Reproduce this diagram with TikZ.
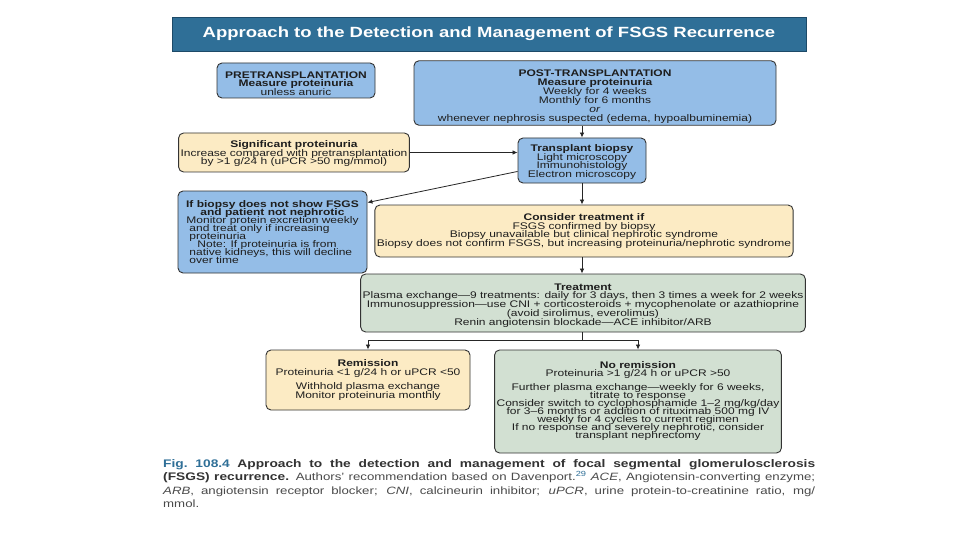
\documentclass[tikz,border=0pt]{standalone}
\usepackage{fontspec}
\setmainfont{Liberation Sans}[FakeStretch=1.25]
\usetikzlibrary{arrows.meta,calc}
\definecolor{titleblue}{HTML}{2F6F97}
\definecolor{titleedge}{HTML}{1D4A68}
\definecolor{boxblue}{HTML}{94BDE7}
\definecolor{boxcream}{HTML}{FCEBC4}
\definecolor{boxgreen}{HTML}{D2E0D2}
\definecolor{txt}{HTML}{1E1E1E}
\definecolor{capgray}{HTML}{4A4A4A}
\definecolor{capblue}{HTML}{2F6F97}
\newcommand{\boxfont}[1]{\fontsize{9.6}{#1}\selectfont\lineskiplimit=-20pt\relax}
\newcommand{\topgap}[1]{\rule{0pt}{#1}}
\newcommand{\capbold}{\fontsize{11}{13.5}\selectfont\bfseries}
\begin{document}
\begin{tikzpicture}[x=1pt,y=-1pt,
  box/.style={draw=black!80, line width=0.9pt, rounded corners=5pt, align=center,
    inner sep=2pt, text=txt, font=\boxfont{8.6}},
  bluebox/.style={box, fill=boxblue},
  creambox/.style={box, fill=boxcream},
  greenbox/.style={box, fill=boxgreen},
  conn/.style={draw=black!85, line width=0.8pt},
  arr/.style={conn, -{Latex[length=5pt,width=4.5pt]}}]
\useasboundingbox[fill=white] (0,0) rectangle (960,540);

% title bar
\node[fill=titleblue, draw=titleedge, line width=0.8pt, minimum width=634pt, minimum height=34pt,
  text=white, font=\fontsize{14.8}{16}\selectfont\bfseries] (title) at (489,34)
  {Approach to the Detection and Management of FSGS Recurrence};

\node[bluebox, minimum width=158pt, minimum height=35pt] (pre) at (296,80.5)
  {\topgap{13pt}\textbf{PRETRANSPLANTATION}\\\textbf{Measure proteinuria}\\unless anuric};

\node[bluebox, minimum width=362pt, minimum height=64pt, font=\boxfont{8.9}] (post) at (595,93)
  {\topgap{14pt}\textbf{POST-TRANSPLANTATION}\\\textbf{Measure proteinuria}\\Weekly for 4 weeks\\Monthly for 6 months\\\textit{or}\\whenever nephrosis suspected (edema, hypoalbuminemia)};

\node[creambox, minimum width=226pt, minimum height=39pt] (sig) at (294,152.5)
  {\topgap{9pt}\textbf{Significant proteinuria}\\Increase compared with pretransplantation\\by >1 g/24 h (uPCR >50 mg/mmol)};

\node[bluebox, minimum width=128pt, minimum height=45pt, font=\boxfont{8.7}] (bio) at (582,160.5)
  {\topgap{10pt}\textbf{Transplant biopsy}\\Light microscopy\\Immunohistology\\Electron microscopy};

\node[bluebox, minimum width=189pt, minimum height=82pt, align=left,
  font=\boxfont{8.0}] (ifb) at (272.5,232)
  {\makebox[172pt][c]{\textbf{If biopsy does not show FSGS}}\\
   \makebox[172pt][c]{\textbf{and patient not nephrotic}}\\
   Monitor protein excretion weekly\\
   \hspace*{3pt}and treat only if increasing\\
   \hspace*{3pt}proteinuria\\
   \hspace*{11pt}Note: If proteinuria is from\\
   \hspace*{3pt}native kidneys, this will decline\\
   \hspace*{3pt}over time};

\node[creambox, minimum width=402pt, minimum height=52pt, font=\boxfont{8.4}] (con) at (584,231)
  {\textbf{Consider treatment if}\\FSGS confirmed by biopsy\\Biopsy unavailable but clinical nephrotic syndrome\\Biopsy does not confirm FSGS, but increasing proteinuria/nephrotic syndrome};

\node[greenbox, minimum width=442pt, minimum height=58pt, font=\boxfont{8.75}] (tre) at (583,303)
  {\topgap{11pt}\textbf{Treatment}\\Plasma exchange—9 treatments: daily for 3 days, then 3 times a week for 2 weeks\\Immunosuppression—use CNI + corticosteroids + mycophenolate or azathioprine\\(avoid sirolimus, everolimus)\\Renin angiotensin blockade—ACE inhibitor/ARB};

\node[creambox, minimum width=204pt, minimum height=60pt] (rem) at (368,380)
  {\textbf{Remission}\\Proteinuria <1 g/24 h or uPCR <50\\[6pt]Withhold plasma exchange\\Monitor proteinuria monthly};

\node[greenbox, minimum width=280pt, minimum height=103pt, font=\boxfont{8.0}] (nor) at (638,401.5)
  {\textbf{No remission}\\Proteinuria >1 g/24 h or uPCR >50\\[6pt]Further plasma exchange—weekly for 6 weeks,\\titrate to response\\Consider switch to cyclophosphamide 1–2 mg/kg/day\\for 3–6 months or addition of rituximab 500 mg IV\\weekly for 4 cycles to current regimen\\If no response and severely nephrotic, consider\\transplant nephrectomy};

% connectors
\coordinate (postout) at (bio.north |- post.south);
\coordinate (conin) at (bio.south |- con.north);
\coordinate (conout) at (bio.south |- con.south);
\coordinate (trein) at (bio.south |- tre.north);
\coordinate (split) at (582,340);
\coordinate (treout) at (split |- tre.south);
\draw[arr] (postout) -- (bio.north);
\draw[arr] (sig.east) -- (sig.east -| bio.west);
\draw[arr] ([yshift=12pt]bio.south west) -- ([yshift=-12pt]ifb.north east);
\draw[arr] (bio.south) -- (conin);
\draw[arr] (conout) -- (trein);
\draw[conn] (treout) -- (split);
\draw[arr] (split) -| (rem.north);
\draw[arr] (split) -| (nor.north);

% caption
\node[anchor=north west, inner sep=0pt, text width=652pt, align=justify, text=capgray,
  font=\fontsize{10.6}{13.5}\selectfont] (cap) at (163,459)
  {\hyphenpenalty=10000 {\capbold\color{capblue}Fig.\ 108.4} {\capbold\color{black!80}Approach to the detection and management of focal segmental glomerulosclerosis\linebreak
   (FSGS) recurrence.} Authors' recommendation based on Davenport.\textsuperscript{\color{capblue}29} \textit{ACE}, Angiotensin-converting enzyme;\linebreak
   \textit{ARB}, angiotensin receptor blocker; \textit{CNI}, calcineurin inhibitor; \textit{uPCR}, urine protein-to-creatinine ratio, mg/\linebreak
   mmol.};
\end{tikzpicture}
\end{document}
